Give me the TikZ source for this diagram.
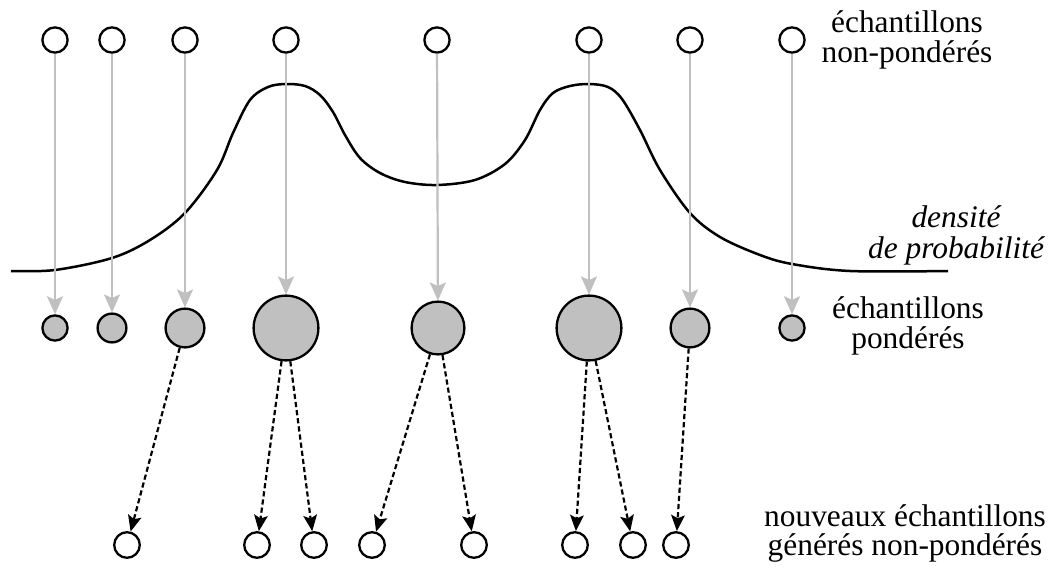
\documentclass[tikz,border=0pt]{standalone}
\usepackage{fontspec}
\setmainfont{Liberation Serif}
\usetikzlibrary{arrows.meta}
\definecolor{lgrey}{RGB}{192,192,192}
\begin{document}
\begin{tikzpicture}[x=0.5pt,y=-0.5pt,
  smp/.style={circle,draw=black,line width=1.15pt,inner sep=0pt,minimum size=#1},
  wsmp/.style={smp=#1,fill=lgrey},
  garrow/.style={draw=lgrey,line width=1.1pt,-{Stealth[length=9pt,width=8pt,inset=1.8pt]}},
  darrow/.style={draw=black,line width=1.1pt,dash pattern=on 2.6pt off 1.5pt,-{Stealth[length=8pt,width=6.8pt,inset=1.6pt]}},
  lbl/.style={align=center,anchor=base,inner sep=0pt,font=\fontsize{15.7pt}{15pt}\selectfont},
  curve/.style={draw=black,line width=1.25pt}
]
\useasboundingbox (0,0) rectangle (1056,567);

% top unweighted samples
\node[smp=12.6pt] (t1) at (55,40) {};
\node[smp=12.6pt] (t2) at (112,40) {};
\node[smp=12.6pt] (t3) at (185,40) {};
\node[smp=12.6pt] (t4) at (286,40) {};
\node[smp=12.6pt] (t5) at (437,40) {};
\node[smp=12.6pt] (t6) at (589,40) {};
\node[smp=12.6pt] (t7) at (690,40) {};
\node[smp=12.6pt] (t8) at (792,40) {};

% weighted samples
\node[wsmp=12.6pt] (w1) at (55,328) {};
\node[wsmp=14.4pt] (w2) at (112,328) {};
\node[wsmp=19.4pt] (w3) at (185,328) {};
\node[wsmp=32.4pt] (w4) at (286,328) {};
\node[wsmp=26.4pt] (w5) at (438,328) {};
\node[wsmp=32.4pt] (w6) at (589,328) {};
\node[wsmp=19.4pt] (w7) at (690,328) {};
\node[wsmp=12.6pt] (w8) at (792,328) {};

% new samples
\node[smp=12.8pt] (n1) at (127,545) {};
\node[smp=12.8pt] (n2) at (257,545) {};
\node[smp=12.8pt] (n3) at (314,545) {};
\node[smp=12.8pt] (n4) at (372,545) {};
\node[smp=12.8pt] (n5) at (474,545) {};
\node[smp=12.8pt] (n6) at (575,545) {};
\node[smp=12.8pt] (n7) at (633,545) {};
\node[smp=12.8pt] (n8) at (676,545) {};

% density curve
\draw[curve] plot[smooth,tension=0.55] coordinates {
 (11,271) (55,270) (112,258) (150,240) (185,213) (217,170) (233,133)
 (250,100) (268,87) (286,84) (305,86) (320,95) (333,112) (345,135)
 (360,158) (380,173) (405,182) (437,185) (475,180) (505,164) (525,140)
 (540,110) (553,93) (570,86) (589,84) (608,87) (622,99) (640,130) (660,170)
 (690,213) (720,237) (760,255) (792,264) (850,271) (948,271)};

% grey arrows
\foreach \i in {1,...,8} {\draw[garrow] (t\i) -- (w\i);}

% dashed arrows
\draw[darrow] (w3) -- (n1);
\draw[darrow] (w4) -- (n2);
\draw[darrow] (w4) -- (n3);
\draw[darrow] (w5) -- (n4);
\draw[darrow] (w5) -- (n5);
\draw[darrow] (w6) -- (n6);
\draw[darrow] (w6) -- (n7);
\draw[darrow] (w7) -- (n8);

% labels (base anchor = baseline of last line)
\node[lbl] (l1) at (907,63) {échantillons\\non-pondérés};
\node[lbl,font=\fontsize{15.7pt}{15.5pt}\selectfont\itshape] (l2) at (956,258) {densité\\de probabilité};
\node[lbl] (l3) at (908,348) {échantillons\\pondérés};
\node[lbl,font=\fontsize{15.7pt}{14.5pt}\selectfont] (l4) at (905,555) {nouveaux échantillons\\générés non-pondérés};
\end{tikzpicture}
\end{document}
